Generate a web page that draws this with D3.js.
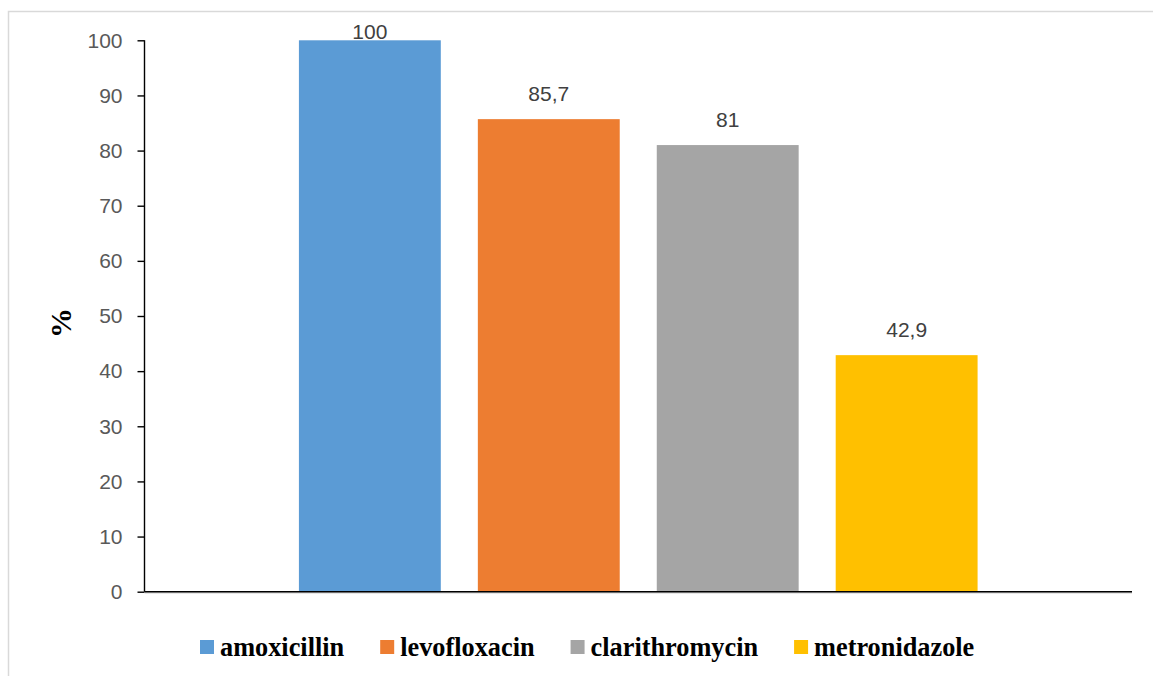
<!DOCTYPE html>
<html><head><meta charset="utf-8">
<script src="https://cdn.jsdelivr.net/npm/d3@7"></script>
<style>html,body{margin:0;padding:0;background:#fff;}svg{display:block;}</style>
</head><body>
<svg id="chart" width="1153" height="676"></svg>
<script>
const series = ["amoxicillin", "levofloxacin", "clarithromycin", "metronidazole"];
const values = [100, 85.7, 81, 42.9];
const valueLabels = ["100", "85,7", "81", "42,9"];
const colors = ["#5B9BD5", "#ED7D31", "#A5A5A5", "#FFC000"];
const yTicks = [0, 10, 20, 30, 40, 50, 60, 70, 80, 90, 100];
const yTitle = "%";

const svg = d3.select("#chart");
const W = 1153, H = 676;

// chart border
svg.append("rect").attr("x", 8.5).attr("y", 11.5).attr("width", W + 10).attr("height", H + 10)
  .attr("fill", "#fff").attr("stroke", "#D9D9D9").attr("stroke-width", 1.5);

const plot = {left: 144.5, right: 1132, top: 40.3, bottom: 591.7};
const y = d3.scaleLinear().domain([0, 100]).range([plot.bottom, plot.top]);
const x = d3.scaleBand().domain(series).range([plot.left, plot.right])
  .paddingInner(0.207).paddingOuter(0.863);

// bars
svg.append("g").selectAll("rect").data(series).join("rect")
  .attr("x", d => x(d)).attr("width", x.bandwidth())
  .attr("y", (d, i) => y(values[i])).attr("height", (d, i) => y(0) - y(values[i]))
  .attr("fill", (d, i) => colors[i]);

// y axis
const yAxis = svg.append("g").attr("transform", `translate(${plot.left},0)`)
  .call(d3.axisLeft(y).tickValues(yTicks).tickSize(7).tickPadding(15).tickFormat(d3.format("d")));
yAxis.select(".domain").attr("stroke", "#000").attr("stroke-width", 1.4).attr("d", `M0,${plot.top}V${plot.bottom}`);
yAxis.selectAll(".tick line").attr("stroke", "#000").attr("stroke-width", 1.4);
yAxis.selectAll(".tick text").attr("fill", "#595959")
  .style("font-family", "'Liberation Sans', Arial, sans-serif").style("font-size", "21px");

// x axis baseline
svg.append("line").attr("x1", plot.left).attr("x2", plot.right).attr("y1", plot.bottom + 1.2).attr("y2", plot.bottom + 1.2)
  .attr("stroke", "#BFBFBF").attr("stroke-width", 1);
svg.append("line").attr("x1", plot.left).attr("x2", plot.right).attr("y1", plot.bottom).attr("y2", plot.bottom)
  .attr("stroke", "#000").attr("stroke-width", 1.6);

// data labels
svg.append("g").selectAll("text").data(series).join("text")
  .attr("x", d => x(d) + x.bandwidth() / 2)
  .attr("y", (d, i) => Math.max(y(values[i]) - 18, y(100) - 1))
  .attr("text-anchor", "middle").attr("fill", "#404040")
  .style("font-family", "'Liberation Sans', Arial, sans-serif").style("font-size", "21px")
  .text((d, i) => valueLabels[i]);

// y title
svg.append("text").attr("transform", "translate(71,323) rotate(-90)")
  .attr("text-anchor", "middle").attr("fill", "#000")
  .style("font-family", "'Liberation Serif', 'Times New Roman', serif").style("font-size", "30px").style("font-weight", "bold")
  .text(yTitle);

// legend
const lg = svg.append("g");
let lx = 200;
series.forEach((s, i) => {
  lg.append("rect").attr("x", lx).attr("y", 640).attr("width", 14).attr("height", 14).attr("fill", colors[i]);
  const t = lg.append("text").attr("x", lx + 20).attr("y", 656).attr("fill", "#000")
    .style("font-family", "'Liberation Serif', 'Times New Roman', serif").style("font-size", "26.3px").style("font-weight", "bold")
    .text(s);
  lx += 20 + t.node().getComputedTextLength() + 36;
});
</script>
</body></html>
